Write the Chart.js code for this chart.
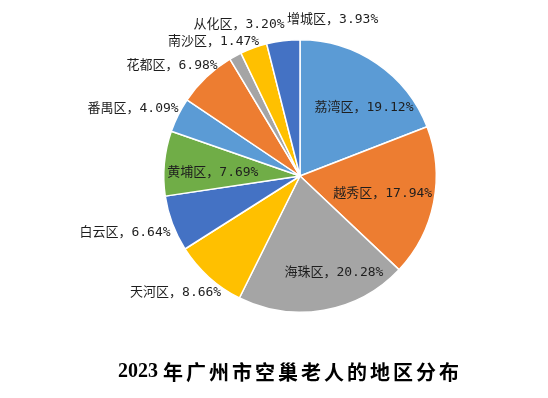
<!DOCTYPE html>
<html>
<head>
<meta charset="utf-8">
<script src="https://cdn.jsdelivr.net/npm/chart.js@4"></script>
<style>
  html, body { margin: 0; padding: 0; background: #fff; }
  #wrap { width: 548px; height: 398px; }
</style>
</head>
<body>
<div id="wrap"><canvas id="chart" width="548" height="398"></canvas></div>
<script>
// 数据
const districts = ["荔湾区", "越秀区", "海珠区", "天河区", "白云区", "黄埔区", "番禺区", "花都区", "南沙区", "从化区", "增城区"];
const shares = [19.12, 17.94, 20.28, 8.66, 6.64, 7.69, 4.09, 6.98, 1.47, 3.20, 3.93];
const titleYear = "2023";
const titleText = "年广州市空巢老人的地区分布";

// 样式
const sliceColors = ["#5B9BD5", "#ED7D31", "#A5A5A5", "#FFC000", "#4472C4", "#70AD47",
                     "#5B9BD5", "#ED7D31", "#A5A5A5", "#FFC000", "#4472C4"];
// 标签位置: 相对扇区中线的角度偏移(度) 和 半径倍数
const labelTurn = [8.5, 0.6, -9.3, 4.9, 2.5, -3, -4.7, -5.7, -4.5, -2, 18.9];
const labelDist = [0.69, 0.62, 0.75, 1.25, 1.35, 0.64, 1.32, 1.24, 1.17, 1.20, 1.17];

// 扇区标签
const sliceLabels = {
    id: "sliceLabels",
    afterDatasetsDraw(chart) {
        const ctx = chart.ctx;
        const meta = chart.getDatasetMeta(0);
        ctx.save();
        ctx.font = '13px "DejaVu Sans Mono", "Noto Sans CJK SC"';
        ctx.fillStyle = "#1e1e1e";
        ctx.textAlign = "center";
        ctx.textBaseline = "middle";
        meta.data.forEach((arc, i) => {
            const p = arc.getProps(["x", "y", "startAngle", "endAngle", "outerRadius"], true);
            const a = (p.startAngle + p.endAngle) / 2 + labelTurn[i] * Math.PI / 180;
            const r = p.outerRadius * labelDist[i];
            const text = districts[i] + "，" + shares[i].toFixed(2) + "%";
            ctx.fillText(text, p.x + Math.cos(a) * r, p.y + Math.sin(a) * r);
        });
        ctx.restore();
    }
};

// 底部标题
const bottomTitle = {
    id: "bottomTitle",
    afterDraw(chart) {
        const ctx = chart.ctx;
        ctx.save();
        ctx.fillStyle = "#000";
        ctx.textBaseline = "middle";
        ctx.textAlign = "left";
        ctx.font = 'bold 20px "Liberation Serif", "Noto Sans CJK SC"';
        const w1 = ctx.measureText(titleYear + " ").width;
        ctx.letterSpacing = "3px";
        ctx.font = 'bold 20px "Noto Sans CJK SC"';
        const w2 = ctx.measureText(titleText).width;
        const x0 = 290 - (w1 + w2) / 2;
        const y = 372;
        ctx.letterSpacing = "0px";
        ctx.font = 'bold 20px "Liberation Serif", "Noto Sans CJK SC"';
        ctx.fillText(titleYear, x0, y);
        ctx.letterSpacing = "3px";
        ctx.font = 'bold 20px "Noto Sans CJK SC"';
        ctx.fillText(titleText, x0 + w1, y);
        ctx.restore();
    }
};

const chart = new Chart(document.getElementById("chart"), {
    type: "pie",
    data: {
        labels: districts,
        datasets: [{
            data: shares,
            backgroundColor: sliceColors,
            borderColor: "#ffffff",
            borderWidth: 1.5
        }]
    },
    options: {
        responsive: false,
        animation: false,
        layout: { padding: { left: 163, right: 111, top: 39, bottom: 85 } },
        plugins: {
            legend: { display: false },
            tooltip: { enabled: false },
            title: { display: false }
        }
    },
    plugins: [sliceLabels, bottomTitle]
});
</script>
</body>
</html>
